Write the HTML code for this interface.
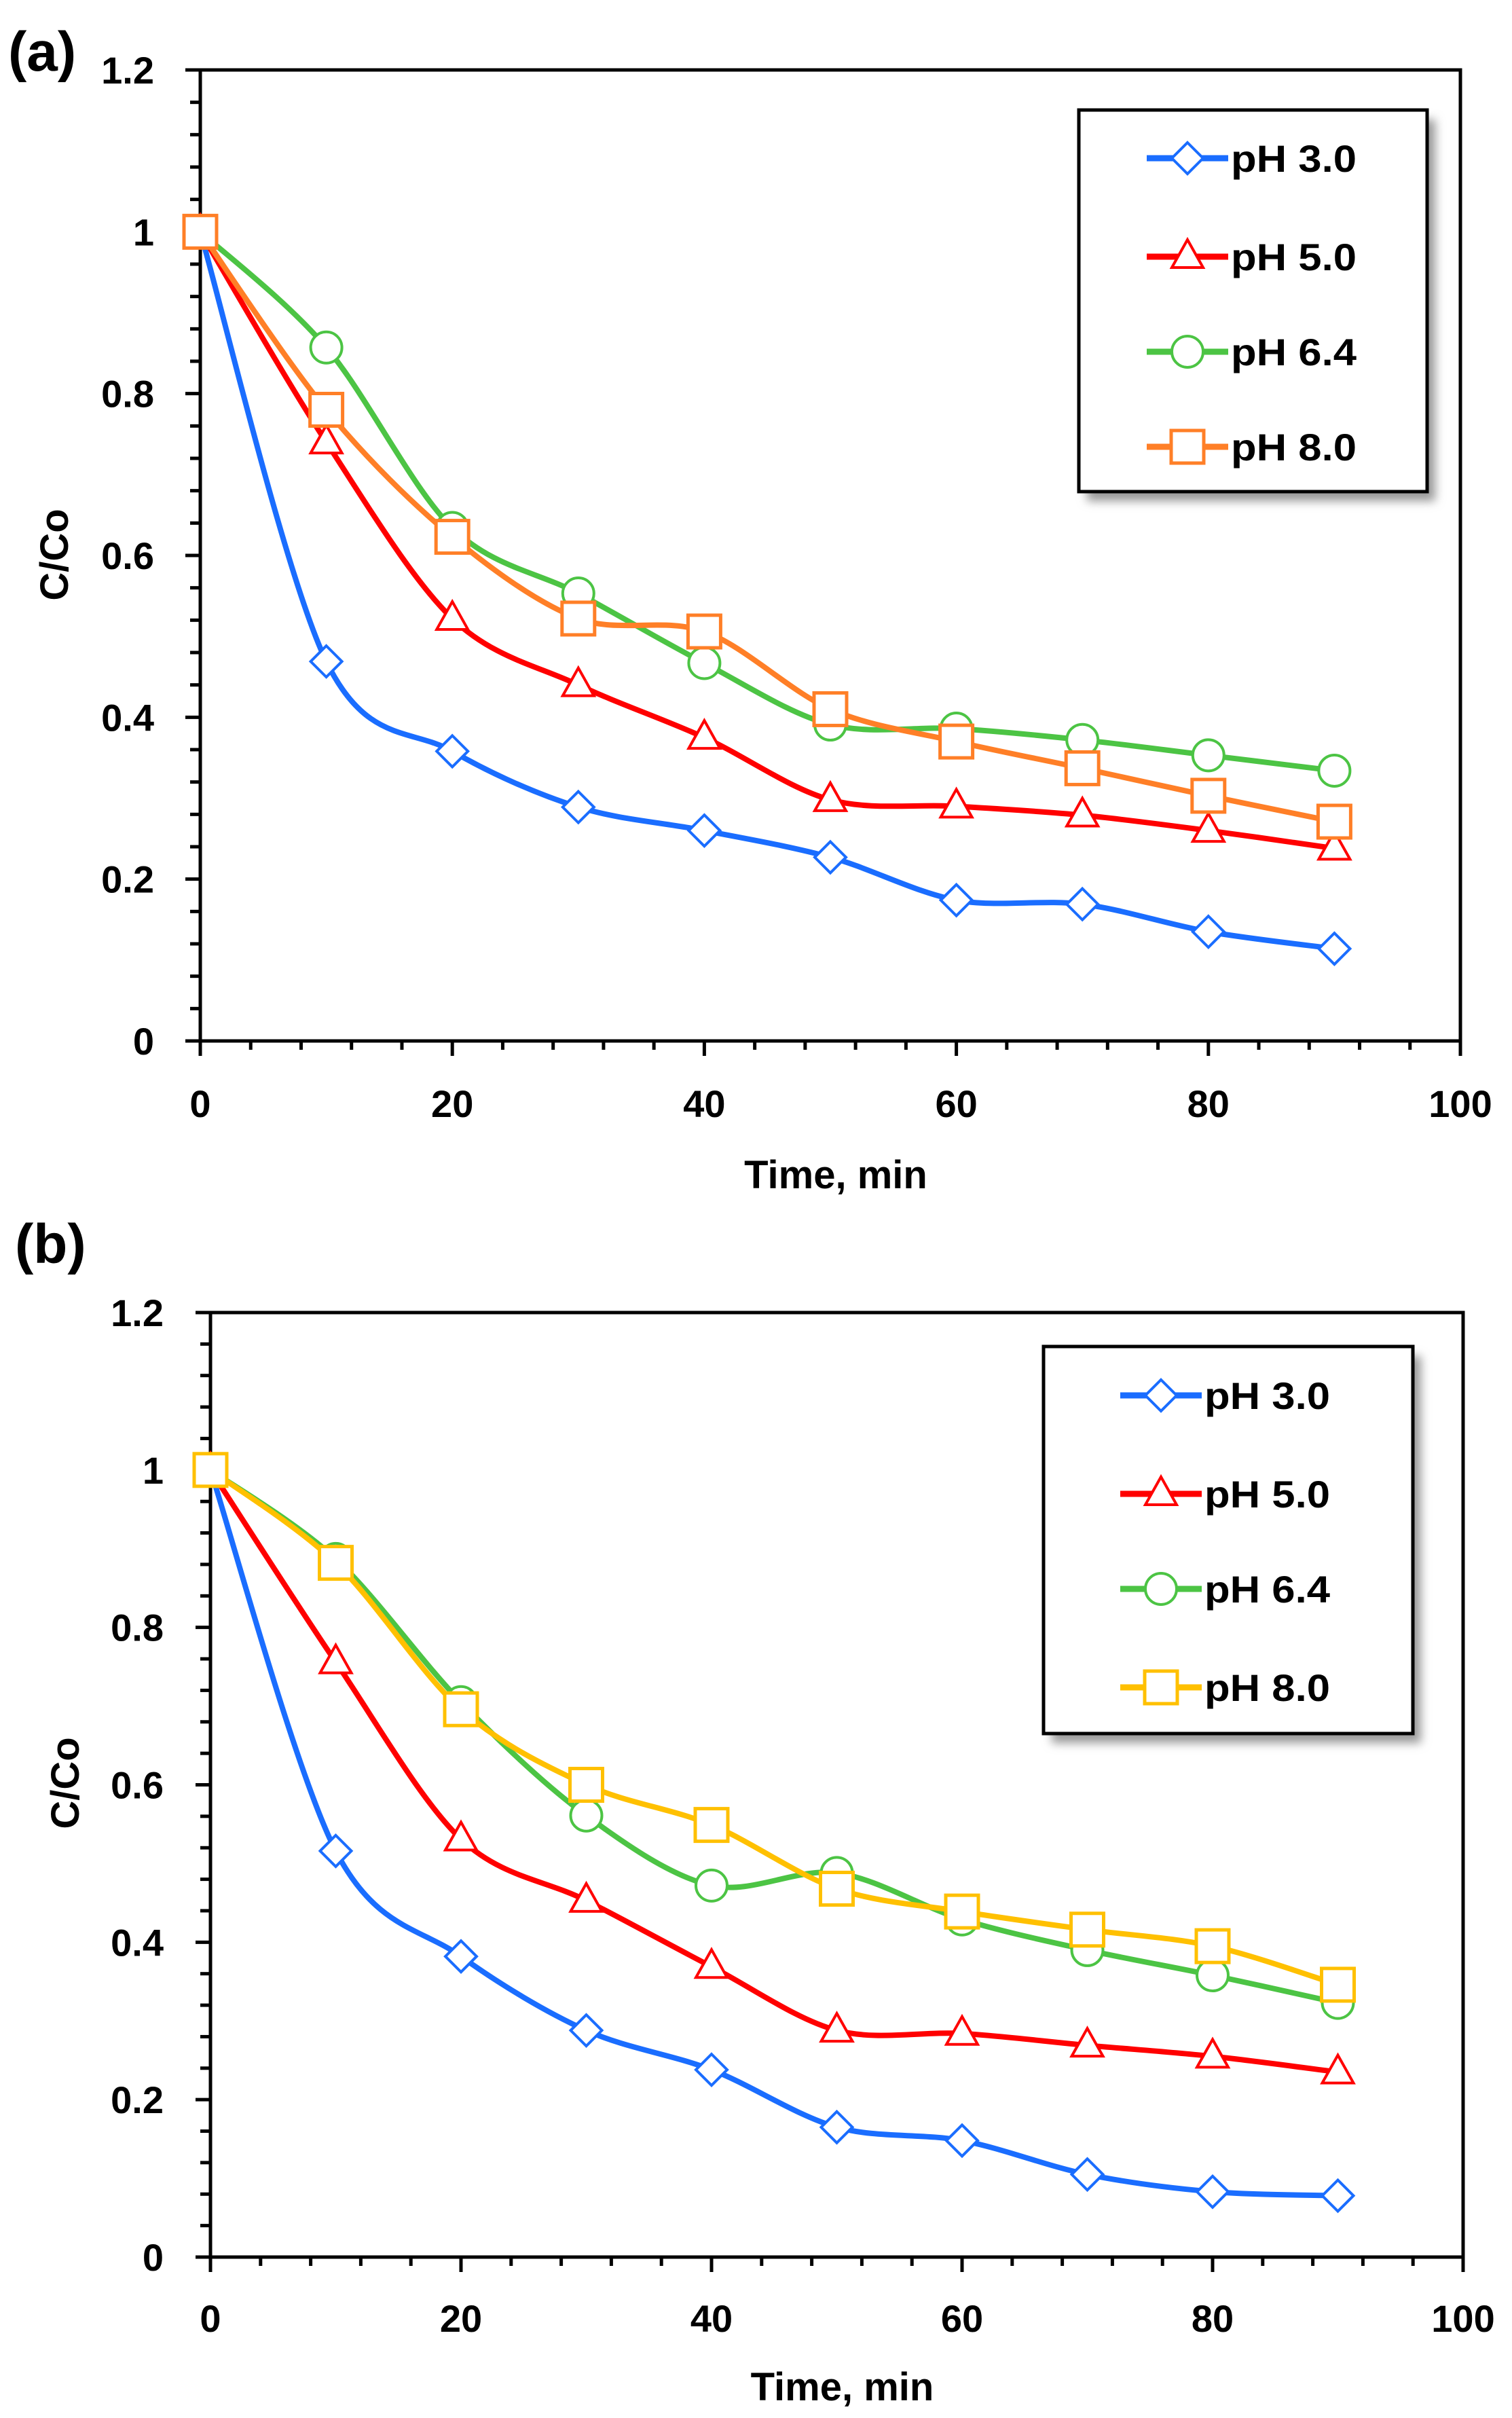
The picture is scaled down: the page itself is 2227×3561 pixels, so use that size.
<!DOCTYPE html>
<html><head><meta charset="utf-8">
<style>
html,body{margin:0;padding:0;background:#fff;}
svg{display:block;}
text{font-family:"Liberation Sans",sans-serif;font-weight:bold;fill:#000;}
</style></head>
<body>
<svg id="fig" width="2227" height="3561" viewBox="0 0 2227 3561" xmlns="http://www.w3.org/2000/svg">
<defs>
<filter id="sh" x="-10%" y="-10%" width="130%" height="130%"><feGaussianBlur stdDeviation="7"/></filter>
</defs>
</svg>
<script>
const times = [0,10,20,30,40,50,60,70,80,90];
const seriesNames = ["pH 3.0","pH 5.0","pH 6.4","pH 8.0"];
const yTicks = [0,0.2,0.4,0.6,0.8,1,1.2];
const yTickLabels = ["0","0.2","0.4","0.6","0.8","1","1.2"];
const xTicks = [0,20,40,60,80,100];
const xTickLabels = ["0","20","40","60","80","100"];
const a_pH30 = [1,0.469,0.358,0.289,0.260,0.227,0.174,0.169,0.135,0.114];
const a_pH50 = [1,0.740,0.522,0.440,0.375,0.298,0.290,0.279,0.260,0.238];
const a_pH64 = [1,0.857,0.634,0.553,0.467,0.391,0.386,0.372,0.353,0.334];
const a_pH80 = [1,0.780,0.623,0.522,0.506,0.410,0.370,0.337,0.303,0.271];
const b_pH30 = [1,0.516,0.382,0.288,0.238,0.165,0.148,0.105,0.083,0.078];
const b_pH50 = [1,0.756,0.531,0.453,0.369,0.288,0.284,0.269,0.255,0.235];
const b_pH64 = [1,0.887,0.705,0.561,0.472,0.488,0.429,0.390,0.358,0.323];
const b_pH80 = [1,0.882,0.696,0.600,0.549,0.468,0.439,0.416,0.395,0.346];

const NS="http://www.w3.org/2000/svg";
const svg=document.getElementById('fig');
function mk(tag,attrs,parent){const e=document.createElementNS(NS,tag);for(const k in attrs)e.setAttribute(k,attrs[k]);(parent||svg).appendChild(e);return e;}

function smoothPath(pts){
  let d="M"+pts[0][0]+","+pts[0][1];
  for(let i=0;i<pts.length-1;i++){
    const p0=pts[i-1]||pts[i],p1=pts[i],p2=pts[i+1],p3=pts[i+2]||pts[i+1];
    const t=0.16;
    const c1=[p1[0]+(p2[0]-p0[0])*t,p1[1]+(p2[1]-p0[1])*t];
    const c2=[p2[0]-(p3[0]-p1[0])*t,p2[1]-(p3[1]-p1[1])*t];
    d+=" C"+c1[0]+","+c1[1]+" "+c2[0]+","+c2[1]+" "+p2[0]+","+p2[1];
  }
  return d;
}

function marker(g,type,cx,cy,color){
  let m;
  if(type==='diamond'){m=mk('polygon',{points:`${cx},${cy-23} ${cx+23},${cy} ${cx},${cy+23} ${cx-23},${cy}`,fill:'#fff',stroke:color,'stroke-width':4},g);}
  else if(type==='triangle'){m=mk('polygon',{points:`${cx},${cy-25} ${cx+23},${cy+16} ${cx-23},${cy+16}`,fill:'#fff',stroke:color,'stroke-width':4},g);}
  else if(type==='circle'){m=mk('circle',{cx:cx,cy:cy,r:23,fill:'#fff',stroke:color,'stroke-width':4},g);}
  else {m=mk('rect',{x:cx-24,y:cy-24,width:48,height:48,fill:'#fff',stroke:color,'stroke-width':5},g);}
  return m;
}

function drawChart(cfg){
  const {L,R,T,B,id,series,colors,label,labelX,labelY,yTitleX,yTitleY,xTitleY,xLabY,yLabR,leg}=cfg;
  const g=mk('g',{});
  
  
  const xs=v=>L+(v/100)*(R-L);
  const ys=v=>B-(v/1.2)*(B-T);
  const pl=mk('text',{x:labelX,y:labelY,'font-size':82,'font-weight':'bold'},g);
  pl.textContent=label;
  
  
  const fr=mk('rect',{x:L,y:T,width:R-L,height:B-T,fill:'none',stroke:'#000','stroke-width':5},g);
  
  
  for(let v=0;v<=1.2001;v+=0.04){
    const y=ys(v);
    const major=Math.abs(v*5-Math.round(v*5))<1e-6;
    mk('line',{x1:L-(major?22:15),x2:L,y1:y,y2:y,stroke:'#000','stroke-width':5},g);
  }
  for(let v=0;v<=100.001;v+=4){
    const x=xs(v);
    const major=(Math.round(v)%20===0);
    mk('line',{x1:x,x2:x,y1:B,y2:B+(major?22:13),stroke:'#000','stroke-width':5},g);
  }
  yTicks.forEach((v,i)=>{
    const t=mk('text',{x:yLabR,y:ys(v)+20,'text-anchor':'end','font-size':56},g);
    t.textContent=yTickLabels[i];
    
    
  });
  xTicks.forEach((v,i)=>{
    const t=mk('text',{x:xs(v),y:xLabY,'text-anchor':'middle','font-size':56},g);
    t.textContent=xTickLabels[i];
    
    
  });
  const xt=mk('text',{x:(L+R)/2+8,y:xTitleY,'text-anchor':'middle','font-size':58},g);
  xt.textContent="Time, min";
  
  
  const yt=mk('text',{x:0,y:0,'text-anchor':'middle','font-size':58,transform:`translate(${yTitleX},${yTitleY}) rotate(-90)`},g);
  yt.textContent="C/Co";
  
  
  const types=['diamond','triangle','circle','square'];
  series.forEach((arr,si)=>{
    const pts=times.map((t,i)=>[xs(t),ys(arr[i])]);
    const sg=mk('g',{},g);
    
    
    mk('path',{d:smoothPath(pts),fill:'none',stroke:colors[si],'stroke-width':8,'stroke-linejoin':'round'},sg);
    pts.forEach(p=>{
      const m=marker(sg,types[si],p[0],p[1],colors[si]);
      
      
    });
  });
  const lg=mk('g',{},g);
  
  
  mk('rect',{x:leg.x+12,y:leg.y+14,width:leg.w,height:leg.h,fill:'#999',filter:'url(#sh)'},lg);
  mk('rect',{x:leg.x,y:leg.y,width:leg.w,height:leg.h,fill:'#fff',stroke:'#000','stroke-width':5},lg);
  seriesNames.forEach((n,si)=>{
    const y=leg.rows[si];
    const e=mk('g',{},lg);
    
    
    mk('line',{x1:leg.lx,x2:leg.lx+120,y1:y,y2:y,stroke:colors[si],'stroke-width':9},e);
    marker(e,types[si],leg.lx+60,y,colors[si]);
    const t=mk('text',{x:leg.lx+124,y:y+20,'font-size':56,textLength:185,lengthAdjust:'spacingAndGlyphs'},e);
    t.textContent=n;
  });
}

drawChart({id:'a',L:295,R:2151,T:103,B:1533,label:'(a)',labelX:12,labelY:104,
  yTitleX:100,yTitleY:817,xTitleY:1750,xLabY:1645,yLabR:227,
  series:[a_pH30,a_pH50,a_pH64,a_pH80],colors:['#1a6dff','#ff0000','#4cc444','#ff7f27'],
  leg:{x:1589,y:162,w:513,h:562,lx:1689,rows:[233,378,518,658]}});
drawChart({id:'b',L:310,R:2155,T:1933,B:3324,label:'(b)',labelX:22,labelY:1860,
  yTitleX:116,yTitleY:2626,xTitleY:3535,xLabY:3434,yLabR:241,
  series:[b_pH30,b_pH50,b_pH64,b_pH80],colors:['#1a6dff','#ff0000','#4cc444','#ffc000'],
  leg:{x:1537,y:1983,w:544,h:570,lx:1650,rows:[2055,2200,2340,2485]}});
</script>
</body></html>
